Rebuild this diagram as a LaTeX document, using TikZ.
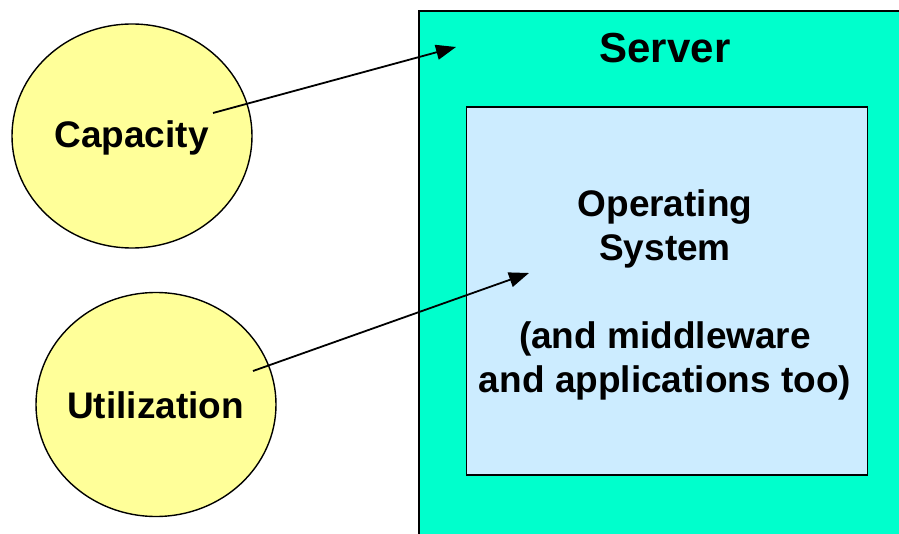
\documentclass[tikz,border=0pt]{standalone}
\usepackage{fontspec}
\setmainfont{Liberation Sans}
\usetikzlibrary{shapes.geometric,arrows.meta}
\definecolor{serverteal}{HTML}{00FFCC}
\definecolor{osblue}{HTML}{CCECFF}
\definecolor{bubble}{HTML}{FFFF99}
\tikzset{
  box/.style={draw=black, line width=1.8pt},
  bubblenode/.style={ellipse, draw=black, line width=1.4pt, fill=bubble,
    minimum width=240pt, minimum height=224pt, inner sep=0pt},
  lbl/.style={font=\fontsize{37}{44}\selectfont\bfseries, anchor=base, inner sep=0pt},
  link/.style={draw=black, line width=1.8pt, -{Triangle[length=20pt,width=15pt]}}
}
\begin{document}
\begin{tikzpicture}[x=1pt,y=-1pt]
  \useasboundingbox (0,0) rectangle (899,534);
  \clip (0,0) rectangle (899,534);
  % server box and operating system box
  \node[box, fill=serverteal, minimum width=492pt, minimum height=530pt,
        anchor=north west, inner sep=0pt] (server) at (418,10) {};
  \node[box, fill=osblue, minimum width=401pt, minimum height=368pt,
        anchor=north west, inner sep=0pt] (os) at (465.5,106) {};
  % labels (the multi-line label sits on the baseline of its last line)
  \node[lbl, font=\fontsize{42}{48}\selectfont\bfseries] (servertxt) at (665,63) {Server};
  \node[lbl, align=center] (ostxt) at (665,392)
    {Operating\\System\\[44pt](and middleware\\and applications too)};
  % the two bubbles
  \node[bubblenode] (cap) at (132,136) {};
  \node[lbl] (captxt) at (131.5,148) {Capacity};
  \node[bubblenode] (util) at (156,404.5) {};
  \node[lbl] (utiltxt) at (155.5,418) {Utilization};
  % connectors
  \coordinate (capfrom) at (213,113);
  \coordinate (capto) at (456,47);
  \coordinate (utilfrom) at (253,371);
  \coordinate (utilto) at (529,273);
  \draw[link] (capfrom) -- (capto);
  \draw[link] (utilfrom) -- (utilto);
\end{tikzpicture}
\end{document}
